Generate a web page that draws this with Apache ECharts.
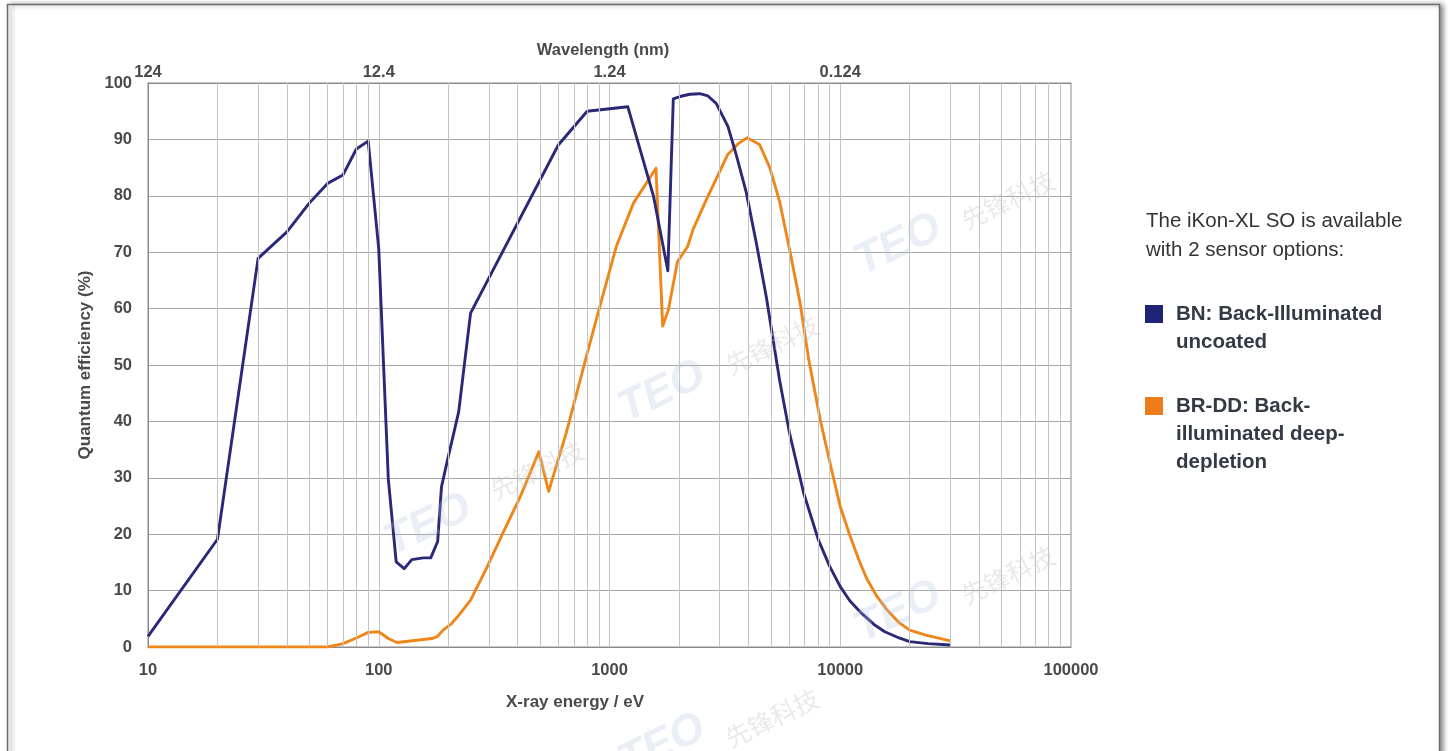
<!DOCTYPE html>
<html>
<head>
<meta charset="utf-8">
<script src="https://cdn.jsdelivr.net/npm/echarts@6/dist/echarts.min.js"></script>
<style>
html,body{margin:0;padding:0;background:#fff;}
#c{width:1448px;height:751px;}
</style>
</head>
<body>
<div id="c"></div>
<script>
// X-ray energy (eV) and quantum efficiency (%)
const bnEnergy = [10, 20, 30, 40, 50, 60, 70, 80, 90, 100, 110, 119, 129, 139, 156, 168, 180, 187, 200, 213, 222, 250, 600, 800, 1200, 1550, 1790, 1890, 2020, 2230, 2460, 2670, 2900, 3260, 3540, 3910, 4330, 4780, 5460, 6030, 6940, 8040, 9000, 10000, 11000, 12360, 14000, 15600, 18000, 20000, 24000, 30000];
const bnQE     = [1.9, 19.1, 68.9, 73.6, 78.7, 82.2, 83.7, 88.3, 89.7, 70.6, 29.8, 15.1, 13.9, 15.5, 15.8, 15.8, 18.7, 28.4, 33.7, 38.5, 41.7, 59.2, 89.0, 95.0, 95.8, 80.0, 66.7, 97.2, 97.6, 98.0, 98.1, 97.7, 96.4, 92.3, 87.3, 80.7, 71.6, 62.1, 47.3, 37.9, 27.3, 19.0, 14.3, 10.7, 8.2, 6.0, 4.0, 2.7, 1.6, 0.95, 0.6, 0.35];

const ddEnergy = [10, 20, 30, 40, 50, 60, 70, 80, 90, 100, 110, 120, 140, 170, 180, 190, 205, 222, 250, 295, 345, 410, 494, 545, 650, 800, 900, 1070, 1270, 1590, 1700, 1800, 1970, 2180, 2300, 2640, 2950, 3250, 3600, 3950, 4470, 4950, 5460, 6050, 6700, 7300, 8200, 9100, 10000, 11000, 12000, 13000, 14400, 16000, 18000, 20000, 23500, 30000];
const ddQE     = [0, 0, 0, 0, 0, 0, 0.6, 1.6, 2.6, 2.7, 1.5, 0.8, 1.1, 1.5, 1.9, 3.0, 4.0, 5.6, 8.3, 14.2, 20.2, 26.6, 34.6, 27.6, 38.0, 52.0, 59.8, 71.0, 78.7, 84.9, 56.9, 59.8, 68.3, 71.0, 74.0, 79.5, 83.6, 87.3, 89.2, 90.3, 89.1, 85.0, 79.0, 70.2, 61.0, 51.0, 40.2, 32.0, 24.9, 19.8, 15.6, 12.2, 9.0, 6.5, 4.3, 3.0, 2.1, 1.1];

const seriesNames = ['BN: Back-Illuminated uncoated', 'BR-DD: Back-illuminated deep-depletion'];
const xTicks = [10, 100, 1000, 10000, 100000];
const wavelengthTicks = ['124', '12.4', '1.24', '0.124', ''];
const yTicks = [0, 10, 20, 30, 40, 50, 60, 70, 80, 90, 100];

const NAVY = '#2b2878';
const ORANGE = '#ef861a';
const TXT = '#4a4a4a';
const FONT = '"Liberation Sans", Arial, Helvetica, sans-serif';

function zip(a, b) { return a.map((v, i) => [v, b[i]]); }

// minor (2..9 per decade) grid positions
const minorGrid = [];
for (let d = 10; d < 100000; d *= 10) {
  for (let k = 2; k <= 9; k++) minorGrid.push({ xAxis: d * k });
}

const chart = echarts.init(document.getElementById('c'), null, { renderer: 'canvas' });

const wm = [];
const wmPos = [[1008, 200], [772, 345], [537, 470], [1008, 575], [772, 718]];
const logoPos = [[898, 245], [662, 392], [428, 525], [898, 612], [662, 745]];
wmPos.forEach(p => wm.push({
  type: 'text', x: p[0], y: p[1], rotation: Math.PI / 7, z: 100, silent: true,
  style: { text: '先锋科技', font: '25px "Noto Sans CJK SC"', fill: 'rgba(200,200,200,0.4)', align: 'center', verticalAlign: 'middle' }
}));
logoPos.forEach(p => wm.push({
  type: 'text', x: p[0], y: p[1], rotation: Math.PI / 7, z: 100, silent: true,
  style: { text: 'TEO', font: 'italic bold 44px "Liberation Sans"', fill: 'rgba(175,195,228,0.28)', align: 'center', verticalAlign: 'middle' }
}));

const option = {
  animation: false,
  backgroundColor: '#fff',
  grid: { left: 148, right: 377, top: 83, bottom: 104, show: true, borderColor: '#8a8a8a', borderWidth: 1, backgroundColor: 'transparent' },
  xAxis: [
    {
      type: 'log', logBase: 10, min: xTicks[0], max: xTicks[xTicks.length - 1], position: 'bottom',
      axisLine: { show: true, lineStyle: { color: '#8a8a8a', width: 1 } },
      axisTick: { show: false },
      axisLabel: { color: TXT, fontFamily: FONT, fontWeight: 'bold', fontSize: 16.5, margin: 15, formatter: v => String(v) },
      splitLine: { show: true, lineStyle: { color: '#c4c4c4', width: 1 } }
    },
    {
      type: 'log', logBase: 10, min: xTicks[0], max: xTicks[xTicks.length - 1], position: 'top',
      axisLine: { show: true, lineStyle: { color: '#8a8a8a', width: 1 } },
      axisTick: { show: false },
      axisLabel: { color: TXT, fontFamily: FONT, fontWeight: 'bold', fontSize: 16.5, margin: 2,
        formatter: v => { const i = xTicks.indexOf(Math.round(v)); return i >= 0 ? wavelengthTicks[i] : ''; } },
      splitLine: { show: false }
    }
  ],
  yAxis: {
    type: 'value', min: yTicks[0], max: yTicks[yTicks.length - 1], interval: 10,
    name: 'Quantum efficiency (%)', nameLocation: 'middle', nameGap: 48,
    nameTextStyle: { color: TXT, fontFamily: FONT, fontWeight: 'bold', fontSize: 17 },
    axisLine: { show: true, lineStyle: { color: '#8a8a8a' } },
    axisTick: { show: false },
    axisLabel: { color: TXT, fontFamily: FONT, fontWeight: 'bold', fontSize: 16.5, margin: 16 },
    splitLine: { show: true, lineStyle: { color: '#a6a6a6', width: 1 } }
  },
  series: [
    {
      type: 'line', name: 'minor', data: [], silent: true, xAxisIndex: 0,
      markLine: { silent: true, symbol: 'none', label: { show: false }, animation: false,
        lineStyle: { color: '#c4c4c4', width: 1, type: 'solid' }, data: minorGrid }, z: 1
    },
    {
      type: 'line', name: seriesNames[1], data: zip(ddEnergy, ddQE), xAxisIndex: 0,
      showSymbol: false, symbol: 'none', smooth: false,
      lineStyle: { color: ORANGE, width: 2.9, join: 'round' }, itemStyle: { color: ORANGE }, z: 3
    },
    {
      type: 'line', name: seriesNames[0], data: zip(bnEnergy, bnQE), xAxisIndex: 0,
      showSymbol: false, symbol: 'none', smooth: false,
      lineStyle: { color: NAVY, width: 2.9, join: 'round' }, itemStyle: { color: NAVY }, z: 4
    }
  ],
  graphic: [
    { type: 'rect', z: -10, shape: { x: 7.5, y: 4.5, width: 1432, height: 800 },
      style: { fill: '#fff', stroke: '#6f6f6f', lineWidth: 1.5, shadowBlur: 5, shadowOffsetX: 3, shadowColor: 'rgba(0,0,0,0.45)' } },
    { type: 'text', x: 603, y: 50, style: { text: 'Wavelength (nm)', font: 'bold 16.5px ' + FONT, fill: TXT, align: 'center', verticalAlign: 'middle' } },
    { type: 'text', x: 575, y: 702, style: { text: 'X-ray energy / eV', font: 'bold 17px ' + FONT, fill: TXT, align: 'center', verticalAlign: 'middle' } },
    { type: 'text', x: 1146, y: 221, style: { text: 'The iKon-XL SO is available', font: '20.5px ' + FONT, fill: '#333', verticalAlign: 'middle' } },
    { type: 'text', x: 1146, y: 250, style: { text: 'with 2 sensor options:', font: '20.5px ' + FONT, fill: '#333', verticalAlign: 'middle' } },
    { type: 'rect', shape: { x: 1145, y: 305, width: 18, height: 18 }, style: { fill: '#1f2474' } },
    { type: 'text', x: 1176, y: 314, style: { text: 'BN: Back-Illuminated', font: 'bold 20.5px ' + FONT, fill: '#333a44', verticalAlign: 'middle' } },
    { type: 'text', x: 1176, y: 342, style: { text: 'uncoated', font: 'bold 20.5px ' + FONT, fill: '#333a44', verticalAlign: 'middle' } },
    { type: 'rect', shape: { x: 1145, y: 397, width: 18, height: 18 }, style: { fill: '#ef7c1a' } },
    { type: 'text', x: 1176, y: 406, style: { text: 'BR-DD: Back-', font: 'bold 20.5px ' + FONT, fill: '#333a44', verticalAlign: 'middle' } },
    { type: 'text', x: 1176, y: 434, style: { text: 'illuminated deep-', font: 'bold 20.5px ' + FONT, fill: '#333a44', verticalAlign: 'middle' } },
    { type: 'text', x: 1176, y: 462, style: { text: 'depletion', font: 'bold 20.5px ' + FONT, fill: '#333a44', verticalAlign: 'middle' } }
  ].concat(wm)
};
chart.setOption(option);
</script>
</body>
</html>
